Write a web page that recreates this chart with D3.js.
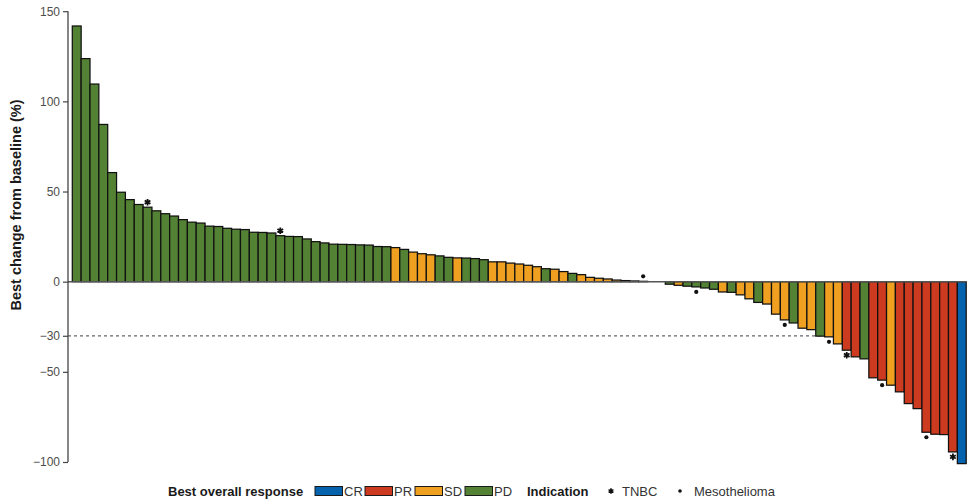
<!DOCTYPE html>
<html><head><meta charset="utf-8">
<script src="https://cdn.jsdelivr.net/npm/d3@7"></script>
<style>body{margin:0;background:#fff}svg{display:block}text{font-family:"Liberation Sans",Arial,sans-serif}</style>
</head><body><svg id="c" width="967" height="501"></svg>
<script>
const values = [141.8,123.7,109.6,87.2,60.5,49.6,45.5,42.8,41.3,39.3,
37.7,36.4,34.4,33.0,32.5,30.8,30.6,29.6,29.1,28.9,
27.4,27.3,27.0,25.5,25.1,25.0,23.7,22.2,21.5,20.8,
20.7,20.6,20.4,20.3,19.5,19.4,18.9,17.9,16.4,15.5,
14.9,14.3,13.5,13.2,13.1,12.8,12.2,11.0,11.0,10.3,
9.8,9.1,8.3,7.2,6.9,5.6,4.6,3.9,2.4,1.9,
1.5,0.9,0.6,0.4,0.2,0,0,-1.4,-2.0,-2.5,
-2.9,-3.5,-4.2,-5.7,-5.9,-7.3,-9.5,-11.5,-12.4,-18.0,
-21.2,-22.9,-25.8,-26.6,-30.2,-30.6,-34.5,-38.0,-41.7,-42.8,
-53.3,-54.6,-57.4,-61.1,-67.6,-70.4,-83.5,-84.6,-84.8,-94.4,-100.9];
const responses = [
"PD","PD","PD","PD","PD","PD","PD","PD","PD","PD",
"PD","PD","PD","PD","PD","PD","PD","PD","PD","PD",
"PD","PD","PD","PD","PD","PD","PD","PD","PD","PD",
"PD","PD","PD","PD","PD","PD","SD","PD","SD","SD",
"SD","PD","PD","SD","PD","PD","PD","SD","SD","SD",
"SD","SD","SD","PD","SD","SD","PD","SD","SD","SD",
"SD","SD","SD","PD","SD","SD","SD","PD","SD","PD",
"PD","PD","PD","SD","PD","SD","SD","PD","SD","SD",
"SD","PD","SD","SD","PD","SD","SD","PR","PR","PD",
"PR","PR","SD","PR","PR","PR","PR","PR","PR","PR","CR"];
// indication markers: patient index (1-based) -> type
const tnbcPatients = [9,24,88,100];
const mesoPatients = [65,71,81,86,92,97];
const yTicks = [150,100,50,0,-30,-50,-100];
const responseCats = ["CR","PR","SD","PD"];
const responseColors = ["#0563ad","#cc3b1f","#f0a020","#548235"];

const svg = d3.select("#c");
const ids = values.map((v,i)=>i+1);
const x = d3.scaleBand().domain(ids).range([72.3,966.2]).padding(0);
const y = d3.scaleLinear().domain([-100,150]).range([462,11.2]);
const color = d3.scaleOrdinal().domain(responseCats).range(responseColors);

// dashed -30 line (behind bars)
svg.append("line").attr("x1",68).attr("x2",967).attr("y1",y(-30)).attr("y2",y(-30))
  .attr("stroke","#666").attr("stroke-width",1.2).attr("stroke-dasharray","3,3");

// bars
svg.append("g").selectAll("rect").data(values).join("rect")
  .attr("x",(d,i)=>x(i+1))
  .attr("width",x.bandwidth())
  .attr("y",d=>y(Math.max(0,d)))
  .attr("height",d=>Math.abs(y(d)-y(0)))
  .attr("fill",(d,i)=>color(responses[i]))
  .attr("stroke","#111").attr("stroke-width",1.25);

// zero line
svg.append("line").attr("x1",68).attr("x2",967).attr("y1",y(0)).attr("y2",y(0))
  .attr("stroke","#555").attr("stroke-width",1.5);

// markers
function markerY(i){const v=values[i-1]; return v>=0? y(v)-5 : y(v)+5;}
svg.append("g").selectAll("path").data(tnbcPatients).join("path")
  .attr("d",d3.symbol(d3.symbolAsterisk,30)())
  .attr("transform",d=>`translate(${x(d)+x.bandwidth()/2},${markerY(d)})`)
  .attr("stroke","#111").attr("stroke-width",1.8).attr("fill","none");
svg.append("g").selectAll("circle").data(mesoPatients).join("circle")
  .attr("cx",d=>x(d)+x.bandwidth()/2).attr("cy",d=>markerY(d)).attr("r",2.1)
  .attr("fill","#111");

// y axis
const ax = svg.append("g").attr("transform","translate(68,0)")
  .call(d3.axisLeft(y).tickValues(yTicks).tickSize(5).tickPadding(3).tickFormat(d=>d<0?"\u2212"+Math.abs(d):d));
ax.select(".domain").attr("stroke","#444").attr("stroke-width",1.3).attr("d","M0,11.2V462");
ax.selectAll(".tick line").attr("stroke","#444").attr("stroke-width",1.2);
ax.selectAll(".tick text").attr("fill","#4d4d4d").style("font-size","12px");

// y title
svg.append("text").attr("transform","translate(21,205) rotate(-90)")
  .attr("text-anchor","middle").attr("fill","#1a1a1a")
  .style("font-size","14.5px").style("font-weight","bold")
  .text("Best change from baseline (%)");

// legend
const lg = svg.append("g").attr("transform","translate(0,491)");
lg.append("text").attr("x",168).attr("dy","0.35em").style("font-size","13px").style("font-weight","bold").attr("fill","#1a1a1a").text("Best overall response");
const boxX = [315,365,415,465];
responseCats.forEach((c,i)=>{
  lg.append("rect").attr("x",boxX[i]).attr("y",-4.5).attr("width",27.5).attr("height",9)
    .attr("fill",color(c)).attr("stroke","#1a1a1a").attr("stroke-width",1);
  lg.append("text").attr("x",boxX[i]+29).attr("dy","0.35em").style("font-size","13px").attr("fill","#333").text(c);
});
lg.append("text").attr("x",527).attr("dy","0.35em").style("font-size","13px").style("font-weight","bold").attr("fill","#1a1a1a").text("Indication");
lg.append("path").attr("d",d3.symbol(d3.symbolAsterisk,22)()).attr("transform","translate(611,0)")
  .attr("stroke","#111").attr("stroke-width",1.6).attr("fill","none");
lg.append("text").attr("x",622).attr("dy","0.35em").style("font-size","13px").attr("fill","#333").text("TNBC");
lg.append("circle").attr("cx",680).attr("cy",0).attr("r",1.8).attr("fill","#111");
lg.append("text").attr("x",694).attr("dy","0.35em").style("font-size","13px").attr("fill","#333").text("Mesothelioma");
</script></body></html>
